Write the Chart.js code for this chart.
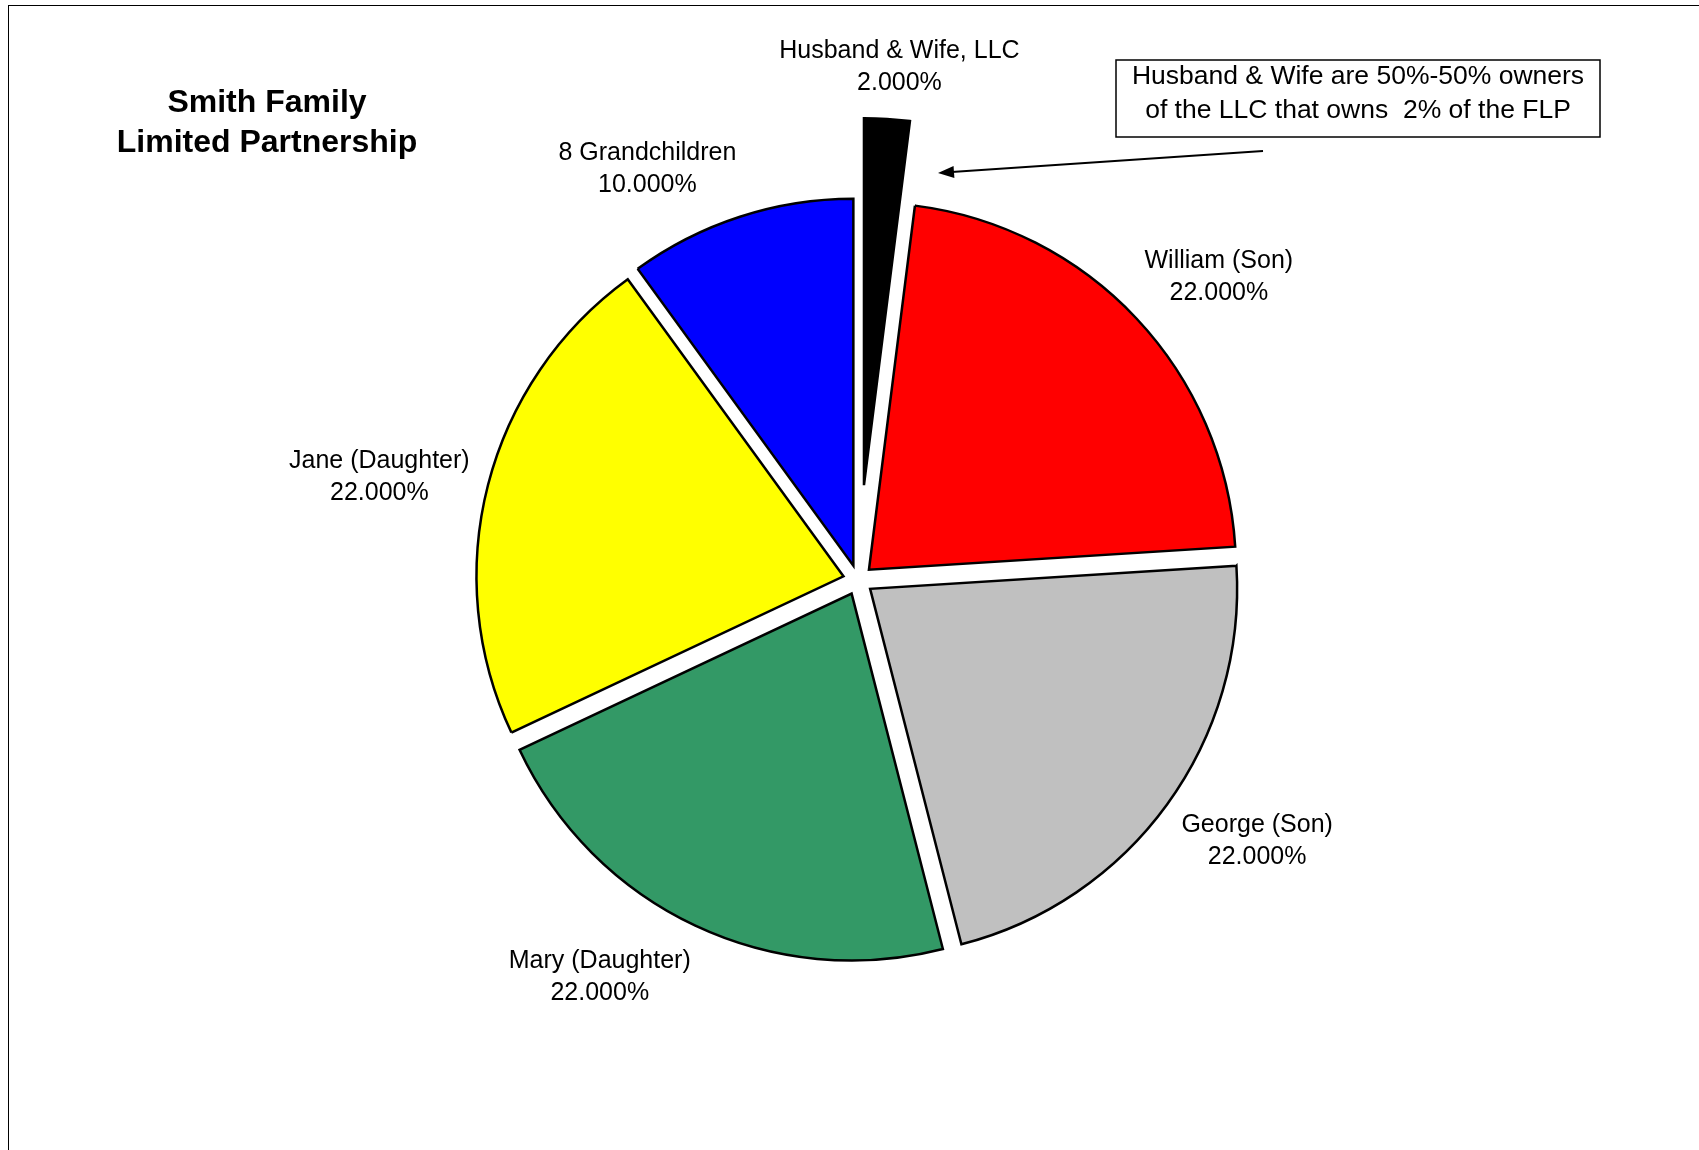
<!DOCTYPE html>
<html>
<head>
<meta charset="utf-8">
<title>Smith Family Limited Partnership</title>
<script src="https://cdn.jsdelivr.net/npm/chart.js@4.4.1/dist/chart.umd.min.js"></script>
<style>
  body { margin: 0; background: #fff; }
  canvas { display: block; }
</style>
</head>
<body>
<canvas id="flpChart" width="1699" height="1150"></canvas>
<script>
const owners = ['Husband & Wife, LLC', 'William (Son)', 'George (Son)', 'Mary (Daughter)', 'Jane (Daughter)', '8 Grandchildren'];
const shares = [2, 22, 22, 22, 22, 10];
const sliceColors = ['#000000', '#FF0000', '#C0C0C0', '#339966', '#FFFF00', '#0000FF'];
const titleLines = ['Smith Family', 'Limited Partnership'];
const noteLines = ['Husband & Wife are 50%-50% owners', 'of the LLC that owns  2% of the FLP'];

const FONT = '"Liberation Sans", Arial, sans-serif';

// pulls each slice out along its middle angle, then draws labels, title and the note box
const explodedPie = {
    id: 'explodedPie',
    beforeDatasetDraw(chart, args, opts) {
        const ctx = chart.ctx;
        args.meta.data.forEach((arc, i) => {
            const mid = (arc.startAngle + arc.endAngle) / 2;
            const d = opts.explode[i] || 0;
            ctx.save();
            ctx.translate(Math.cos(mid) * d, Math.sin(mid) * d);
            arc.draw(ctx);
            ctx.restore();
        });
        return false;
    },
    afterDraw(chart, args, opts) {
        const ctx = chart.ctx;
        const meta = chart.getDatasetMeta(0);

        // outer frame
        ctx.save();
        ctx.strokeStyle = '#000';
        ctx.lineWidth = 1;
        ctx.strokeRect(8.5, 5.5, 1800, 1300);
        ctx.restore();

        // data labels
        ctx.save();
        ctx.fillStyle = '#000';
        ctx.font = '25px ' + FONT;
        ctx.textAlign = 'center';
        ctx.textBaseline = 'middle';
        const lineH = 32;
        meta.data.forEach((arc, i) => {
            const lines = [owners[i], shares[i].toFixed(3) + '%'];
            const hw = Math.max(...lines.map(t => ctx.measureText(t).width)) / 2;
            const hh = lineH;
            const ang = (arc.startAngle + arc.endAngle) / 2 + (opts.labelNudge[i] || 0) * Math.PI / 180;
            const c = Math.cos(ang), s = Math.sin(ang);
            const dist = arc.outerRadius + (opts.explode[i] || 0) + 13 + Math.abs(c) * hw + Math.abs(s) * hh;
            const x = arc.x + c * dist;
            const y = arc.y + s * dist + 2;
            ctx.fillText(lines[0], x, y - lineH / 2);
            ctx.fillText(lines[1], x, y + lineH / 2);
        });
        ctx.restore();

        // title
        ctx.save();
        ctx.fillStyle = '#000';
        ctx.font = 'bold 32px ' + FONT;
        ctx.textAlign = 'center';
        ctx.textBaseline = 'middle';
        ctx.fillText(titleLines[0], 267, 103);
        ctx.fillText(titleLines[1], 267, 143);
        ctx.restore();

        // note box
        ctx.save();
        ctx.fillStyle = '#fff';
        ctx.fillRect(1116, 60, 484, 77);
        ctx.strokeStyle = '#000';
        ctx.lineWidth = 1.5;
        ctx.strokeRect(1116, 60, 484, 77);
        ctx.fillStyle = '#000';
        ctx.font = '26.5px ' + FONT;
        ctx.textAlign = 'center';
        ctx.textBaseline = 'middle';
        ctx.fillText(noteLines[0], 1358, 77);
        ctx.fillText(noteLines[1], 1358, 111);
        ctx.restore();

        // arrow to the LLC slice
        const x1 = 1263, y1 = 151, x2 = 938, y2 = 173;
        const a = Math.atan2(y2 - y1, x2 - x1);
        ctx.save();
        ctx.strokeStyle = '#000';
        ctx.fillStyle = '#000';
        ctx.lineWidth = 2;
        ctx.beginPath();
        ctx.moveTo(x1, y1);
        ctx.lineTo(x2 - Math.cos(a) * 10, y2 - Math.sin(a) * 10);
        ctx.stroke();
        ctx.beginPath();
        ctx.moveTo(x2, y2);
        ctx.lineTo(x2 - Math.cos(a) * 16 + Math.sin(a) * 6, y2 - Math.sin(a) * 16 - Math.cos(a) * 6);
        ctx.lineTo(x2 - Math.cos(a) * 16 - Math.sin(a) * 6, y2 - Math.sin(a) * 16 + Math.cos(a) * 6);
        ctx.closePath();
        ctx.fill();
        ctx.restore();
    }
};

const ctx = document.getElementById('flpChart').getContext('2d');
const chart = new Chart(ctx, {
    type: 'pie',
    data: {
        labels: owners,
        datasets: [{
            data: shares,
            backgroundColor: sliceColors,
            borderColor: '#000',
            borderWidth: 2.5,
            borderJoinStyle: 'miter'
        }]
    },
    options: {
        responsive: false,
        animation: false,
        radius: 367,
        layout: { padding: { left: 17, top: 10, right: 0, bottom: 0 } },
        plugins: {
            legend: { display: false },
            tooltip: { enabled: false },
            explodedPie: {
                explode: [95, 15, 15, 15, 15, 15],
                labelNudge: [1, 3, -3, 8, -2, -9]
            }
        }
    },
    plugins: [explodedPie]
});
</script>
</body>
</html>
